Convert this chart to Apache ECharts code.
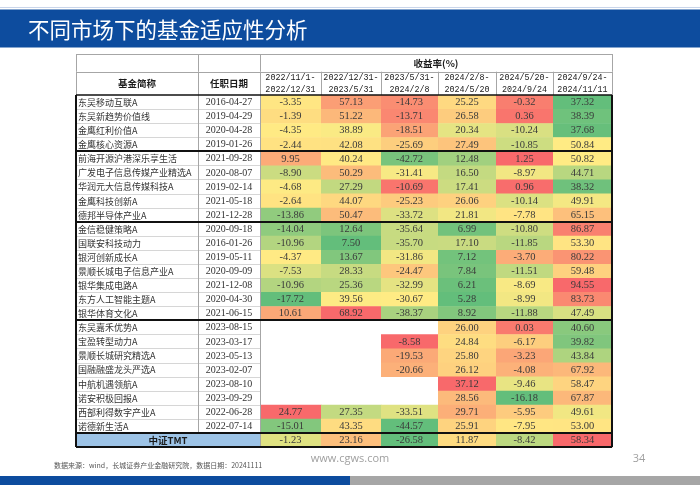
<!DOCTYPE html>
<html><head><meta charset="utf-8">
<script src="https://cdn.jsdelivr.net/npm/echarts@6/dist/echarts.min.js"></script>
<style>html,body{margin:0;padding:0;background:#fff}#c{width:700px;height:485px}</style>
</head><body><div id="c"></div>
<script>
// ---------------- DATA ----------------
const fundNames = ['东吴移动互联A','东吴新趋势价值线','金鹰红利价值A','金鹰核心资源A',
  '前海开源沪港深乐享生活','广发电子信息传媒产业精选A','华润元大信息传媒科技A','金鹰科技创新A','德邦半导体产业A',
  '金信稳健策略A','国联安科技动力','银河创新成长A','景顺长城电子信息产业A','银华集成电路A','东方人工智能主题A','银华体育文化A',
  '东吴嘉禾优势A','宝盈转型动力A','景顺长城研究精选A','国融融盛龙头严选A','中航机遇领航A','诺安积极回报A','西部利得数字产业A','诺德新生活A'];
const startDates = ['2016-04-27','2019-04-29','2020-04-28','2019-01-26',
  '2021-09-28','2020-08-07','2019-02-14','2021-05-18','2021-12-28',
  '2020-09-18','2016-01-26','2019-05-11','2020-09-09','2021-12-08','2020-04-30','2021-06-15',
  '2023-08-15','2023-03-17','2023-05-13','2023-02-07','2023-08-10','2023-09-29','2022-06-28','2022-07-14'];
const periodLabels = ['2022/11/1-\n2022/12/31','2022/12/31-\n2023/5/31','2023/5/31-\n2024/2/8',
  '2024/2/8-\n2024/5/20','2024/5/20-\n2024/9/24','2024/9/24-\n2024/11/11'];
const ret1 = [-3.35,-1.39,-4.35,-2.44, 9.95,-8.90,-4.68,-2.64,-13.86, -14.04,-10.96,-4.37,-7.53,-10.96,-17.72,10.61, null,null,null,null,null,null,24.77,-15.01];
const ret2 = [57.13,51.22,38.89,42.08, 40.24,50.29,27.29,44.07,50.47, 12.64,7.50,13.67,28.33,25.36,39.56,68.92, null,null,null,null,null,null,27.35,43.35];
const ret3 = [-14.73,-13.71,-18.51,-25.69, -42.72,-31.41,-10.69,-25.23,-33.72, -35.64,-35.70,-31.86,-24.47,-32.99,-30.67,-38.37, null,-8.58,-19.53,-20.66,null,null,-33.51,-44.57];
const ret4 = [25.25,26.58,20.34,27.49, 12.48,16.50,17.41,26.06,21.81, 6.99,17.10,7.12,7.84,6.21,5.28,8.92, 26.00,24.84,25.80,26.12,37.12,28.56,29.71,25.91];
const ret5 = [-0.32,0.36,-10.24,-10.85, 1.25,-8.97,0.96,-10.14,-7.78, -10.80,-11.85,-3.70,-11.51,-8.69,-8.99,-11.88, 0.03,-6.17,-3.23,-4.08,-9.46,-16.18,-5.95,-7.95];
const ret6 = [37.32,38.39,37.68,50.84, 50.82,44.71,38.32,49.91,65.15, 86.87,53.30,80.22,59.48,94.55,83.73,47.49, 40.60,39.82,43.84,67.92,58.47,67.87,49.61,53.00];
const benchmarkName = '中证TMT';
const benchmarkReturns = [-1.23,23.16,-26.58,11.87,-8.42,58.34];
const groupSizes = [4,5,7,8];
const headerName = '基金简称', headerDate = '任职日期', headerReturn = '收益率(%)';
const titleText = '不同市场下的基金适应性分析';
const sourceText = '数据来源：wind，长城证券产业金融研究院，数据日期：20241111';

// ---------------- LAYOUT ----------------
const EDGES = [0,122,184,245,305,362,420,477,536];
const H1 = 17.7, H2 = 23.3, RH = 14.08;
const NROW = fundNames.length + 1;
const TOTAL_H = H1 + H2 + NROW * RH;
const FONT_CJK = '"Noto Sans CJK SC"';
const FONT_NUM = '"Liberation Serif"';
const FONT_MONO = '"Liberation Mono"';

// 3-colour scale (min / 50th percentile / max)
function scaleT(v, arr) {
  const s = arr.filter(x => x != null).slice().sort((a,b)=>a-b);
  const n = s.length, min = s[0], max = s[n-1];
  const pos = (n-1)*0.5, lo = Math.floor(pos), hi = Math.ceil(pos);
  const med = s[lo] + (s[hi]-s[lo])*(pos-lo);
  if (v <= med) return med === min ? 0.5 : 0.5*(v-min)/(med-min);
  return max === med ? 0.5 : 0.5 + 0.5*(v-med)/(max-med);
}
const retCols = [ret1,ret2,ret3,ret4,ret5,ret6];
const valueData = [];
retCols.forEach((col, c) => col.forEach((v, r) => { if (v != null) valueData.push([c, r, v, scaleT(v, col)]); }));
benchmarkReturns.forEach((v, c) => valueData.push([c, fundNames.length, v, scaleT(v, benchmarkReturns)]));

// text cells
const cells = [];
const y0Data = H1 + H2;
cells.push({x0:EDGES[2], x1:EDGES[8], y0:0, y1:H1, text:headerReturn, align:'center', size:9.5, weight:'bold', family:FONT_CJK});
cells.push({x0:EDGES[0], x1:EDGES[1], y0:H1, y1:H1+H2, text:headerName, align:'center', size:9.5, weight:'bold', family:FONT_CJK});
cells.push({x0:EDGES[1], x1:EDGES[2], y0:H1, y1:H1+H2, text:headerDate, align:'center', size:9.5, weight:'bold', family:FONT_CJK});
periodLabels.forEach((p, i) => cells.push({x0:EDGES[i+2], x1:EDGES[i+3], y0:H1, y1:H1+H2, text:p, align:'center', size:8.4, weight:'normal', family:FONT_MONO, lh:12.5}));
fundNames.forEach((n, r) => {
  cells.push({x0:EDGES[0], x1:EDGES[1], y0:y0Data+r*RH, y1:y0Data+(r+1)*RH, text:n, align:'left', size:9, weight:'normal', family:FONT_CJK, fill:'#333'});
  cells.push({x0:EDGES[1], x1:EDGES[2], y0:y0Data+r*RH, y1:y0Data+(r+1)*RH, text:startDates[r], align:'center', size:10, weight:'normal', family:FONT_NUM, fill:'#333'});
});
cells.push({x0:EDGES[0], x1:EDGES[2], y0:y0Data+fundNames.length*RH, y1:TOTAL_H, text:benchmarkName, align:'center', size:9.5, weight:'bold', family:FONT_CJK, bg:'#9DC3E6'});

// rules
const lines = [];
const G = '#a6a6a6', L = '#d6d6d6', K = '#111';
lines.push([EDGES[0],0,EDGES[8],0,1,G]);
lines.push([EDGES[0],H1,EDGES[8],H1,1,G]);
[0,1,2,8].forEach(i => lines.push([EDGES[i],0,EDGES[i],H1,1,G]));
EDGES.forEach(e => lines.push([e,H1,e,y0Data,1,G]));
for (let r = 1; r < fundNames.length; r++) lines.push([EDGES[0], y0Data+r*RH, EDGES[2], y0Data+r*RH, 1, L]);
[1,2].forEach(i => lines.push([EDGES[i], y0Data, EDGES[i], y0Data+fundNames.length*RH, 1, G]));
lines.push([EDGES[2], y0Data+fundNames.length*RH, EDGES[2], TOTAL_H, 1, G]);
let acc = 0;
groupSizes.forEach(g => { acc += g; lines.push([EDGES[0], y0Data+acc*RH, EDGES[8], y0Data+acc*RH, 2, K]); });
lines.push([EDGES[0], y0Data, EDGES[8], y0Data, 1.5, K]);
lines.push([EDGES[0], TOTAL_H, EDGES[8], TOTAL_H, 2, K]);
lines.push([EDGES[0], y0Data, EDGES[0], TOTAL_H, 2, K]);
lines.push([EDGES[8], y0Data, EDGES[8], TOTAL_H, 2, K]);

function rectOf(api, x0, x1, y0, y1) {
  const a = api.coord([x0, y0]), b = api.coord([x1, y1]);
  return {x: a[0], y: a[1], width: b[0]-a[0], height: b[1]-a[1]};
}

const chart = echarts.init(document.getElementById('c'), null, {renderer:'canvas'});
chart.setOption({
  animation: false,
  backgroundColor: '#fff',
  grid: {left: 76, top: 54, width: 536, height: TOTAL_H, containLabel: false},
  xAxis: {type:'value', min:0, max:EDGES[8], show:false},
  yAxis: {type:'value', min:0, max:TOTAL_H, inverse:true, show:false},
  visualMap: {type:'continuous', show:false, dimension:3, min:0, max:1, seriesIndex:0,
    inRange:{color:['#63BE7B','#FFEB84','#F8696B']}},
  graphic: [
    {type:'rect', shape:{x:0,y:7,width:700,height:1}, style:{fill:'#c9d5ea'}, silent:true},
    {type:'rect', shape:{x:0,y:9.5,width:700,height:38}, style:{fill:'#0D4C9E'}, silent:true},
    {type:'text', style:{text:titleText, x:28, y:30, verticalAlign:'middle', fill:'#fff', fontSize:21.5, fontFamily:FONT_CJK}, silent:true},
    {type:'text', style:{text:sourceText, x:54, y:465, verticalAlign:'middle', fill:'#555', fontSize:7, fontFamily:FONT_CJK}, silent:true},
    {type:'text', style:{text:'www.cgws.com', x:350, y:459, align:'center', verticalAlign:'middle', fill:'#a0a0a0', fontSize:11, fontFamily:'"Open Sans"'}, silent:true},
    {type:'text', style:{text:'34', x:639, y:459, align:'center', verticalAlign:'middle', fill:'#a0a0a0', fontSize:11, fontFamily:'"Open Sans"'}, silent:true},
    {type:'rect', shape:{x:0,y:476,width:350,height:9}, style:{fill:'#0D4C9E'}, silent:true},
    {type:'rect', shape:{x:350,y:476,width:350,height:9}, style:{fill:'#A6A6A6'}, silent:true}
  ],
  series: [
    {
      type:'custom', clip:false, silent:true,
      data: valueData,
      encode: {x:0, y:1},
      renderItem: function(params, api) {
        const c = api.value(0), r = api.value(1), v = api.value(2);
        const y0 = y0Data + r*RH;
        const rc = rectOf(api, EDGES[c+2], EDGES[c+3], y0, y0+RH);
        return {type:'group', children:[
          {type:'rect', shape:{x:rc.x, y:rc.y, width:rc.width+0.5, height:rc.height+0.5}, style:{fill:api.visual('color')}},
          {type:'text', style:{text:v.toFixed(2), x:rc.x+rc.width/2, y:rc.y+rc.height/2+0.5, align:'center', verticalAlign:'middle',
            fontSize:10.5, fontFamily:FONT_NUM, fill:'#3a3a3a'}}
        ]};
      }
    },
    {
      type:'custom', clip:false, silent:true,
      data: cells.map((c, i) => [c.x0, c.y0, i]),
      encode: {x:0, y:1},
      renderItem: function(params, api) {
        const c = cells[api.value(2)];
        const rc = rectOf(api, c.x0, c.x1, c.y0, c.y1);
        const ch = [];
        if (c.bg) ch.push({type:'rect', shape:rc, style:{fill:c.bg}});
        ch.push({type:'text', style:{text:c.text,
          x: c.align === 'left' ? rc.x + 2 : rc.x + rc.width/2,
          y: rc.y + rc.height/2 + 0.5, align:c.align, verticalAlign:'middle',
          fontSize:c.size, fontWeight:c.weight, fontFamily:c.family, fill:c.fill || '#1a1a1a', lineHeight:c.lh}});
        return {type:'group', children:ch};
      }
    },
    {
      type:'custom', clip:false, silent:true,
      data: lines.map((l, i) => [l[0], l[1], i]),
      encode: {x:0, y:1},
      z: 5,
      renderItem: function(params, api) {
        const l = lines[api.value(2)];
        const a = api.coord([l[0], l[1]]), b = api.coord([l[2], l[3]]);
        const w = l[4];
        const snap = v => (w % 2 === 1) ? Math.round(v) + 0.5 : Math.round(v);
        const horiz = Math.abs(a[1]-b[1]) < 0.01;
        const s = horiz ? {x1:a[0], y1:snap(a[1]), x2:b[0], y2:snap(b[1])} : {x1:snap(a[0]), y1:a[1], x2:snap(b[0]), y2:b[1]};
        return {type:'line', shape:s, style:{stroke:l[5], lineWidth:w}};
      }
    }
  ]
});
</script></body></html>
